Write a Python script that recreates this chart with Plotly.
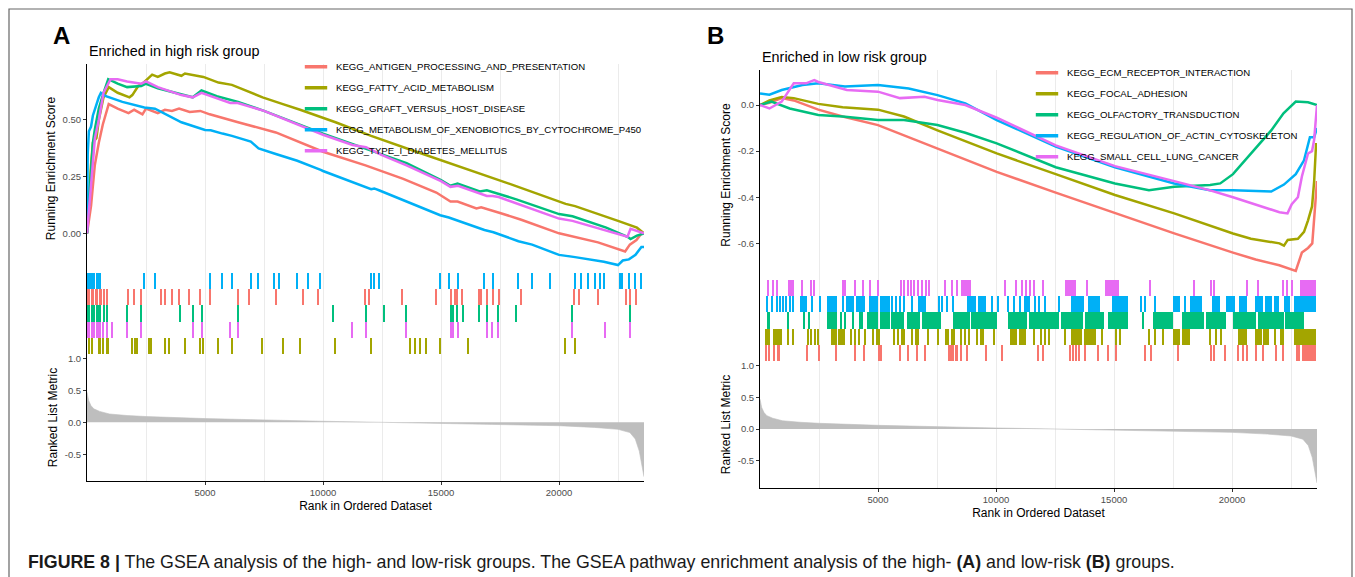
import plotly.graph_objects as go

W, H = 1355, 577
N_GENES = 23600
FONT = "Liberation Sans, Arial, Helvetica, sans-serif"
SET_COLORS = ["#F8766D", "#A3A500", "#00BF7D", "#00B0F6", "#E76BF3"]

# ---------------- ranked list metric (shared by both panels) ----------------
metric_rank = [1, 70, 170, 290, 540, 950, 1700, 2500, 5000, 7500, 10000, 12500,
               15000, 17500, 20000, 21500, 22500, 23000, 23230, 23400, 23520, 23600]
metric_value = [0.47, 0.34, 0.26, 0.21, 0.17, 0.13, 0.106, 0.09, 0.058, 0.032, 0.016, 0.0,
                -0.016, -0.032, -0.053, -0.08, -0.11, -0.16, -0.26, -0.45, -0.66, -0.85]

# ---------------- panel A: enriched in high risk group ----------------
A_labels = ["KEGG_ANTIGEN_PROCESSING_AND_PRESENTATION",
            "KEGG_FATTY_ACID_METABOLISM",
            "KEGG_GRAFT_VERSUS_HOST_DISEASE",
            "KEGG_METABOLISM_OF_XENOBIOTICS_BY_CYTOCHROME_P450",
            "KEGG_TYPE_I_DIABETES_MELLITUS"]

# running enrichment score, (rank, score)
A_antigen_es = [(1, 0.0), (170, 0.12), (330, 0.30), (500, 0.40), (670, 0.48), (920, 0.57),
                (1300, 0.55), (1760, 0.53), (2000, 0.545), (2350, 0.525), (2500, 0.55),
                (3000, 0.53), (3300, 0.545), (3600, 0.54), (3900, 0.55), (4350, 0.535),
                (4800, 0.54), (5200, 0.525), (6400, 0.49), (6900, 0.475), (8000, 0.445),
                (10000, 0.36), (11800, 0.30), (13400, 0.24), (14800, 0.18), (15400, 0.14),
                (15700, 0.14), (16500, 0.11), (16700, 0.115), (17500, 0.09), (18400, 0.06),
                (20000, 0.0), (20650, -0.015), (21650, -0.04), (22800, -0.08), (23000, -0.05),
                (23280, -0.03), (23500, 0.0), (23600, 0.0)]
A_fatty_es = [(1, 0.0), (50, 0.10), (170, 0.30), (250, 0.40), (400, 0.42), (500, 0.50),
              (700, 0.60), (920, 0.645), (1300, 0.62), (1800, 0.60), (1920, 0.61),
              (2170, 0.65), (2350, 0.66), (2760, 0.70), (3000, 0.69), (3300, 0.705),
              (3500, 0.71), (4000, 0.695), (4150, 0.705), (4930, 0.69), (5570, 0.665),
              (6140, 0.655), (7440, 0.60), (8300, 0.57), (9030, 0.545), (10530, 0.49),
              (12040, 0.43), (13680, 0.37), (14380, 0.345), (15000, 0.32), (16170, 0.28),
              (18000, 0.215), (20280, 0.13), (20680, 0.12), (22500, 0.055), (23300, 0.025),
              (23600, 0.0)]
A_graft_es = [(1, 0.0), (170, 0.25), (250, 0.40), (335, 0.46), (500, 0.55), (700, 0.62),
              (900, 0.68), (1300, 0.66), (1700, 0.645), (2300, 0.65), (2500, 0.66),
              (3000, 0.64), (3930, 0.615), (4480, 0.60), (4850, 0.63), (5500, 0.605),
              (6400, 0.58), (7500, 0.54), (10000, 0.44), (11800, 0.375), (12570, 0.345),
              (13540, 0.31), (15000, 0.235), (15400, 0.21), (15700, 0.22), (16640, 0.185),
              (16940, 0.19), (17440, 0.175), (18190, 0.15), (20000, 0.085), (20570, 0.075),
              (22000, 0.025), (22900, -0.015), (23030, -0.025), (23300, -0.01), (23600, 0.0)]
A_xeno_es = [(1, 0.0), (30, 0.35), (80, 0.45), (170, 0.47), (250, 0.52), (335, 0.55),
             (420, 0.58), (500, 0.60), (590, 0.62), (800, 0.605), (1500, 0.58), (2430, 0.555),
             (2880, 0.55), (4000, 0.49), (5000, 0.456), (5240, 0.455), (5740, 0.44),
             (6140, 0.43), (6940, 0.405), (7270, 0.375), (8000, 0.35), (8910, 0.32),
             (9900, 0.28), (10000, 0.275), (12040, 0.195), (12170, 0.198), (12370, 0.19),
             (14965, 0.08), (15330, 0.07), (15720, 0.055), (16840, 0.015), (17220, 0.005),
             (18280, -0.035), (18860, -0.05), (19610, -0.08), (20000, -0.095), (20680, -0.105),
             (21230, -0.115), (21900, -0.125), (22500, -0.14), (22700, -0.12), (22960, -0.115),
             (23240, -0.095), (23490, -0.06), (23600, -0.06)]
A_diabetes_es = [(1, 0.0), (170, 0.20), (335, 0.42), (500, 0.50), (700, 0.62), (1000, 0.68),
                 (1300, 0.68), (1700, 0.67), (2300, 0.66), (2500, 0.67), (3000, 0.645),
                 (4000, 0.61), (4480, 0.60), (4850, 0.62), (5500, 0.595), (6070, 0.575),
                 (6390, 0.575), (7500, 0.54), (10000, 0.435), (11250, 0.39), (11820, 0.38),
                 (12500, 0.345), (13540, 0.30), (15000, 0.23), (15400, 0.205), (15720, 0.21),
                 (16940, 0.165), (17190, 0.165), (17440, 0.16), (20000, 0.065), (20570, 0.055),
                 (21950, 0.015), (22900, -0.015), (23030, 0.02), (23600, 0.0)]

# gene-set hits in the ranked list: single ranks or (first, last) runs
A_antigen_hits = [(15, 120), (150, 300), (330, 450), (490, 640), (700, 760), (820, 870),
                  1756, 2006, 2307, 3127, 3310, 3595, 3896, 4347, 4815, 5217, 6404, 6889,
                  8026, 9163, 9815, 11788, 11955, 13376, 14797, (15380, 15480), (15560, 15720),
                  15884, (16550, 16720), 16971, 17222, 17472, 18392, 20649, 20866, 21652,
                  22856, 23023, 23274]
A_fatty_hits = [(33, 120), (170, 250), (500, 580), (640, 700), (800, 920), 1923, (2006, 2060),
                (2120, 2174), (2592, 2680), (2720, 2759), 3310, 3478, 4146, (4765, 4830),
                (4880, 4932), 5568, 6137, 7440, 8310, 9029, 10534, 12039, 13677, 13911, 14128,
                14379, 14965, 16168, 20281, 20681]
A_graft_hits = [(15, 130), (170, 330), (380, 585), (700, 780), (820, 870), 1705, 2307, 3929,
                4481, (4815, 4932), 6387, 10450, 11821, 12573, 13543, (15380, 15560),
                (15620, 15716), 15933, 16636, 16937, 17439, 18191, 20566, 23024]
A_xeno_hits = [(15, 150), (190, 330), (370, 590), 2425, 2876, 5234, 5735, 6137, 6940, 7274,
               7943, 8144, 8913, 9365, 9900, 12040, 12170, 12370, 14965, 15330, 15720, 16840,
               17220, 18280, 18860, 19610, 20680, 20930, 21230, 21520, 21740, 21900,
               (22520, 22700), 22960, 23240, 23490]
A_diabetes_hits = [(15, 130), (170, 330), (400, 585), 702, 836, 1053, 1705, 2307, 4481,
                   (4815, 4932), 6069, 6387, 11252, 11821, 13543, (15380, 15550), 15716, 16937,
                   17188, 17439, 20566, 21953, 23024]

# ---------------- panel B: enriched in low risk group ----------------
B_labels = ["KEGG_ECM_RECEPTOR_INTERACTION",
            "KEGG_FOCAL_ADHESION",
            "KEGG_OLFACTORY_TRANSDUCTION",
            "KEGG_REGULATION_OF_ACTIN_CYTOSKELETON",
            "KEGG_SMALL_CELL_LUNG_CANCER"]

B_ecm_es = [(1, 0.0), (400, 0.01), (920, 0.03), (1430, 0.02), (2470, -0.02), (3500, -0.05),
            (5000, -0.087), (7520, -0.19), (10030, -0.29), (12530, -0.38), (15040, -0.47),
            (17550, -0.557), (20040, -0.64), (21000, -0.67), (22000, -0.695), (22700, -0.72),
            (22960, -0.64), (23220, -0.62), (23400, -0.60), (23480, -0.50), (23560, -0.40),
            (23600, -0.33)]
B_focal_es = [(1, 0.0), (400, 0.02), (920, 0.035), (1430, 0.03), (2470, 0.005), (3500, -0.01),
              (5000, -0.02), (6100, -0.05), (7520, -0.11), (10030, -0.21), (12530, -0.30),
              (15040, -0.39), (17550, -0.47), (20040, -0.557), (20800, -0.58), (22010, -0.60),
              (22200, -0.61), (22360, -0.585), (22790, -0.58), (23050, -0.55), (23220, -0.50),
              (23390, -0.44), (23480, -0.33), (23560, -0.17), (23600, -0.17)]
B_olf_es = [(1, 0.0), (480, 0.015), (1260, -0.015), (2470, -0.043), (3500, -0.05),
            (5000, -0.065), (6100, -0.065), (7520, -0.087), (8700, -0.12), (10030, -0.166),
            (12530, -0.27), (15040, -0.34), (16480, -0.37), (17550, -0.355), (19070, -0.347),
            (19500, -0.34), (20040, -0.30), (20800, -0.21), (21660, -0.11), (22180, -0.036),
            (22700, 0.015), (23220, 0.012), (23600, 0.0)]
B_actin_es = [(1, 0.05), (400, 0.045), (920, 0.065), (1800, 0.087), (2470, 0.094),
              (3600, 0.08), (5000, 0.087), (6300, 0.072), (7520, 0.043), (8700, 0.007),
              (10030, -0.065), (12530, -0.18), (15040, -0.27), (17550, -0.34), (19070, -0.37),
              (20040, -0.37), (21660, -0.375), (22200, -0.345), (22700, -0.30), (23050, -0.24),
              (23300, -0.14), (23480, -0.14), (23600, -0.10)]
B_sclc_es = [(1, 0.0), (400, -0.015), (920, 0.015), (1430, 0.094), (1950, 0.094),
             (2300, 0.108), (2470, 0.10), (3680, 0.065), (5000, 0.058), (5930, 0.03),
             (6970, 0.036), (7520, 0.022), (8700, 0.0), (10030, -0.055), (12530, -0.175),
             (15040, -0.265), (17550, -0.33), (19070, -0.37), (20040, -0.40), (22010, -0.465),
             (22350, -0.47), (22530, -0.43), (22790, -0.40), (22960, -0.31), (23220, -0.21),
             (23390, -0.20), (23480, -0.15), (23600, 0.0)]

B_ecm_hits = [259, 398, (571, 650), (740, 830), 1988, 2524, 3216, 4029, 4409, (4980, 5152),
              5931, 6276, 6657, 7020, 8005, 8090, 8178, 8300, 8351, 8524, 8783, 9596, 10253,
              11774, 11982, 13157, 13278, 13400, 13540, 13797, 14316, 14748, 15094, 16339,
              16564, 17722, 19106, 19244, 19711, 20281, 20454, 20627, 21007, 21318, 21871,
              22148, (22702, 22900), (22950, 23566)]
B_focal_hits = [(225, 430), (571, 916), 1176, 1400, 2040, 2161, 2330, 2472, (2991, 3250),
                (3310, 3596), 3856, 4029, 4201, 4461, 4806, 4980, 5066, 5671, 5844, 6017, 6103,
                6449, 6622, 6709, 7141, 7538, (7832, 8000), (8080, 8265), 8524, 8697, 8870,
                9215, 9388, 9475, 9907, (10599, 10900), (10960, 11290), 11636, 11896, 12068,
                12241, 12933, (13192, 13650), (13720, 14229), 14489, 15094, 15267, 16477,
                16736, 17082, (17515, 17800), (17880, 18206), 19071, 19330, 19555,
                (20247, 20627), (20973, 21250), (21320, 21578), 21837, 22097, 22183,
                (22615, 23566)]
B_olf_hits = [(277, 432), 1176, 1867, 2092, (2818, 3250), 3423, 3631, 3942, (4201, 4374),
              (4513, 5014), (5100, 5500), (5560, 6103), (6224, 6800), (6880, 7659),
              (8178, 8900), (8960, 10028), (10512, 11300), (11380, 12673), (12760, 13700),
              (13760, 14575), (14748, 15613), 16218, (16650, 17515), (17860, 18800),
              (18900, 19762), (20022, 21000), (21080, 22200), (22260, 23048)]
B_actin_hits = [311, 536, 743, 864, 985, 1106, 1262, 1400, (1694, 1988), 2213, 2559,
                (2818, 3250), 3510, (3631, 4000), (4080, 4461), (4634, 5000), (5080, 5498),
                5585, 5758, 5931, 6103, 6449, (6709, 7054), 7573, 7711, 7919, 8178,
                (8783, 9150), (9230, 9561), 9821, 10080, 10512, 10770, 11030, (11200, 11460),
                11640, 11809, 12068, 12673, (13192, 13711), (13884, 14402), (14921, 15613),
                16131, 16304, 16736, (17515, 17774), 18033, (18206, 18725), (19158, 19503),
                (19762, 20108), (20281, 20627), (20973, 21300), (21400, 21700), (21780, 22010),
                (22183, 22442), (22615, 23566)]
B_sclc_hits = [363, 571, 743, (1176, 1435), 1781, 2161, 2300, 3510, 3631, 4029, 4374, 4686,
               5014, 5982, 6103, 6276, 6397, 6536, 6709, 6881, 7054, 7175, 7832, 8126, 8351,
               (8524, 8956), 10391, 10858, 11117, 11290, 11429, 11601, 11982, (12933, 13400),
               13850, (14627, 15215), 16529, 18379, 19123, 19244, 20627, 21111, 22148, 22356,
               22529, (22875, 23566)]

# ---------------- helpers ----------------
def px_x(left, right):
    return [left / W, right / W]


def px_y(top, bottom):
    return [1 - bottom / H, 1 - top / H]


def hit_bars(hits, min_width=60):
    centers, widths = [], []
    for h in hits:
        a, b = (h, h) if isinstance(h, (int, float)) else h
        centers.append((a + b) / 2)
        widths.append(max(b - a, min_width))
    return centers, widths


GRID = "#EBEBEB"
grid_vals = list(range(2500, 23000, 2500))
major_vals = [5000, 10000, 15000, 20000]
minor_vals = [v for v in grid_vals if v not in major_vals]

panels = [
    dict(axes=(1, 2, 3), left=87, right=644, es=(64, 273), hits=(273, 354), rank=(354, 481),
         es_range=[-0.175, 0.747], rank_range=[-0.917, 1.067],
         es_ticks=[0.0, 0.25, 0.5], es_text=["0.00", "0.25", "0.50"],
         labels=A_labels,
         curves=[A_antigen_es, A_fatty_es, A_graft_es, A_xeno_es, A_diabetes_es],
         hits_list=[A_antigen_hits, A_fatty_hits, A_graft_hits, A_xeno_hits, A_diabetes_hits],
         rows=[3, 0, 2, 4, 1], legend="legend"),
    dict(axes=(4, 5, 6), left=760, right=1317, es=(70, 280), hits=(280, 361), rank=(361, 488),
         es_range=[-0.759, 0.152], rank_range=[-0.929, 1.071],
         es_ticks=[-0.6, -0.4, -0.2, 0.0], es_text=["-0.6", "-0.4", "-0.2", "0.0"],
         labels=B_labels,
         curves=[B_ecm_es, B_focal_es, B_olf_es, B_actin_es, B_sclc_es],
         hits_list=[B_ecm_hits, B_focal_hits, B_olf_hits, B_actin_hits, B_sclc_hits],
         rows=[0, 1, 2, 3, 4], legend="legend2"),
]

fig = go.Figure()
layout_axes = {}


def ax_name(i, kind):
    return kind if i == 1 else f"{kind}{i}"


for p in panels:
    i_es, i_hit, i_rank = p["axes"]
    xd = px_x(p["left"], p["right"])

    # ranked list metric
    fig.add_trace(go.Scatter(
        x=metric_rank, y=metric_value, mode="lines", fill="tozeroy",
        line=dict(color="#BEBEBE", width=0.6), fillcolor="#BEBEBE",
        xaxis=ax_name(i_rank, "x"), yaxis=ax_name(i_rank, "y"),
        showlegend=False, hoverinfo="skip"))

    for k in range(5):
        col = SET_COLORS[k]
        # hit ticks
        cx, wd = hit_bars(p["hits_list"][k])
        fig.add_trace(go.Bar(
            x=cx, y=[1] * len(cx), base=[p["rows"][k]] * len(cx), width=wd,
            marker=dict(color=col, line=dict(width=0)),
            xaxis=ax_name(i_hit, "x"), yaxis=ax_name(i_hit, "y"),
            showlegend=False, hoverinfo="skip"))

    for k in range(5):
        col = SET_COLORS[k]
        rx, ry = zip(*p["curves"][k])
        fig.add_trace(go.Scatter(
            x=list(rx), y=list(ry), mode="lines",
            line=dict(color=col, width=2.5),
            xaxis=ax_name(i_es, "x"), yaxis=ax_name(i_es, "y"),
            showlegend=False, hoverinfo="skip"))

    # legend keys
    for k in range(5):
        fig.add_trace(go.Scatter(
            x=[None], y=[None], mode="markers", name=p["labels"][k],
            marker=dict(symbol="line-ew", size=16, color=SET_COLORS[k],
                        line=dict(color=SET_COLORS[k], width=3.5)),
            legend=p["legend"], legendgroup=p["labels"][k],
            xaxis=ax_name(i_es, "x"), yaxis=ax_name(i_es, "y")))

    tickfont = dict(size=9.5, color="#4D4D4D", family=FONT)
    for idx in (i_es, i_hit):
        layout_axes[ax_name(idx, "xaxis")] = dict(
            domain=xd, range=[0, N_GENES], anchor=ax_name(idx, "y"),
            tickmode="array", tickvals=grid_vals, showticklabels=False, ticks="",
            showgrid=True, gridcolor=GRID, gridwidth=1, zeroline=False, showline=False,
            fixedrange=True)
    layout_axes[ax_name(i_rank, "xaxis")] = dict(
        domain=xd, range=[0, N_GENES], anchor=ax_name(i_rank, "y"),
        tickmode="array", tickvals=major_vals, ticktext=[str(v) for v in major_vals],
        ticks="outside", ticklen=3, tickcolor="#333333", tickwidth=1, tickfont=tickfont,
        showgrid=True, gridcolor=GRID, gridwidth=1, zeroline=False,
        showline=True, linecolor="black", linewidth=1,
        minor=dict(tickmode="array", tickvals=minor_vals, showgrid=True, gridcolor=GRID,
                   gridwidth=1, ticks=""),
        title=dict(text="Rank in Ordered Dataset", font=dict(size=12, color="black", family=FONT),
                   standoff=4))

    layout_axes[ax_name(i_es, "yaxis")] = dict(
        domain=px_y(*p["es"]), range=p["es_range"], anchor=ax_name(i_es, "x"),
        tickmode="array", tickvals=p["es_ticks"], ticktext=p["es_text"],
        ticks="outside", ticklen=3, tickcolor="#333333", tickfont=tickfont,
        showgrid=False, zeroline=False, showline=True, linecolor="black", linewidth=1,
        title=dict(text="Running Enrichment Score", font=dict(size=12, color="black", family=FONT),
                   standoff=4))
    layout_axes[ax_name(i_hit, "yaxis")] = dict(
        domain=px_y(*p["hits"]), range=[0, 5], anchor=ax_name(i_hit, "x"),
        showticklabels=False, ticks="", showgrid=False, zeroline=False,
        showline=True, linecolor="black", linewidth=1)
    layout_axes[ax_name(i_rank, "yaxis")] = dict(
        domain=px_y(*p["rank"]), range=p["rank_range"], anchor=ax_name(i_rank, "x"),
        tickmode="array", tickvals=[-0.5, 0.0, 0.5, 1.0], ticktext=["-0.5", "0.0", "0.5", "1.0"],
        ticks="outside", ticklen=3, tickcolor="#333333", tickfont=tickfont,
        showgrid=False, zeroline=False, showline=True, linecolor="black", linewidth=1,
        title=dict(text="Ranked List Metric", font=dict(size=12, color="black", family=FONT),
                   standoff=4))

legend_common = dict(xanchor="left", yanchor="top", bgcolor="rgba(0,0,0,0)", borderwidth=0,
                     font=dict(size=9.6, color="black", family=FONT),
                     tracegroupgap=2, traceorder="grouped", itemwidth=30,
                     itemclick=False, itemdoubleclick=False)

annotations = [
    dict(text="<b>A</b>", x=61 / W, y=1 - 35.5 / H, xref="paper", yref="paper",
         xanchor="center", yanchor="middle", showarrow=False,
         font=dict(size=24, color="black", family=FONT)),
    dict(text="<b>B</b>", x=715 / W, y=1 - 35.5 / H, xref="paper", yref="paper",
         xanchor="center", yanchor="middle", showarrow=False,
         font=dict(size=24, color="black", family=FONT)),
    dict(text="Enriched in high risk group", x=87 / W, y=1 - 50.7 / H, xref="paper", yref="paper",
         xanchor="left", yanchor="middle", showarrow=False,
         font=dict(size=14.4, color="black", family=FONT)),
    dict(text="Enriched in low risk group", x=760 / W, y=1 - 56.7 / H, xref="paper", yref="paper",
         xanchor="left", yanchor="middle", showarrow=False,
         font=dict(size=14.4, color="black", family=FONT)),
    dict(text="<b>FIGURE 8 |</b> The GSEA analysis of the high- and low-risk groups. "
              "The GSEA pathway enrichment analysis of the high- <b>(A)</b> and low-risk "
              "<b>(B)</b> groups.",
         x=26 / W, y=1 - 562 / H, xref="paper", yref="paper",
         xanchor="left", yanchor="middle", showarrow=False,
         font=dict(size=17.8, color="#1a1a1a", family=FONT)),
]

fig.update_layout(
    width=W, height=H, margin=dict(l=0, r=0, t=0, b=0),
    paper_bgcolor="white", plot_bgcolor="rgba(0,0,0,0)",
    font=dict(family=FONT), barmode="overlay", bargap=0,
    legend=dict(x=296 / W, y=1 - 52.2 / H, **legend_common),
    legend2=dict(x=1027 / W, y=1 - 58.2 / H, **legend_common),
    annotations=annotations,
    shapes=[dict(type="rect", xref="paper", yref="paper", x0=9 / W, x1=1352 / W,
                 y0=-0.2, y1=1 - 9 / H, line=dict(color="#666666", width=1.2),
                 fillcolor="rgba(0,0,0,0)", layer="below")],
    **layout_axes,
)

fig.write_html("out.html", config={"displayModeBar": False})
